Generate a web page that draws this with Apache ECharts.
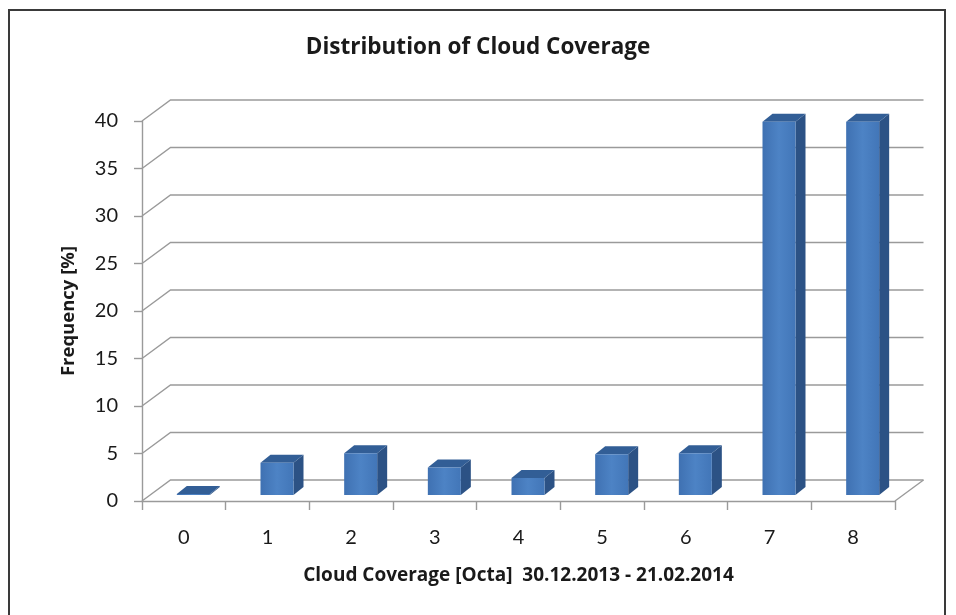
<!DOCTYPE html>
<html>
<head>
<meta charset="utf-8">
<title>Distribution of Cloud Coverage</title>
<script src="https://cdn.jsdelivr.net/npm/echarts@6.0.0/dist/echarts.min.js"></script>
<style>
html,body{margin:0;padding:0;background:#fff;}
#chart{width:956px;height:615px;}
</style>
</head>
<body>
<div id="chart"></div>
<script>
'use strict';

// data
var categories=['0','1','2','3','4','5','6','7','8'];
var frequency=[0.1,3.4,4.4,2.9,1.8,4.3,4.4,39.3,39.3];
var yTicks=[0,5,10,15,20,25,30,35,40];

var FONT='Lato, "Open Sans", sans-serif';
var BOLD_FONT='"Open Sans", Lato, sans-serif';
var GRID_COLOR='#9a9a9a';

// fake 3d: back wall offset and bar plane offset
var WALL_DX=28.5, WALL_DY=-21;
var BAR_DX=9.5, BAR_DY=-6;
var BAR_W=33, SIDE_DX=10, SIDE_DY=-8;

/**
 * back wall gridlines + left wall diagonals + floor edge
 */
function renderWall(params,api){
    var cs=params.coordSys;
    var v=api.value(1);
    var y=api.coord([0,v])[1];
    var x0=cs.x, x1=cs.x+cs.width;
    var children=[{
        type:'polyline',
        shape:{points:[[x0,y],[x0+WALL_DX,y+WALL_DY],[x1+WALL_DX,y+WALL_DY]]},
        style:{stroke:GRID_COLOR,lineWidth:1.4,fill:null}
    }];
    if(v===0){
        children.push({
            type:'line',
            shape:{x1:x1,y1:y,x2:x1+WALL_DX,y2:y+WALL_DY},
            style:{stroke:GRID_COLOR,lineWidth:1.4}
        });
    }
    return {type:'group',children:children};
}

/**
 * 3d looking column: front face, side face, top face
 */
function renderBar(params,api){
    var i=api.value(0), v=api.value(1);
    var base=api.coord([i,0]);
    var top=api.coord([i,v]);
    var l=base[0]+BAR_DX-BAR_W/2, r=l+BAR_W;
    var b=base[1]+BAR_DY, t=top[1]+BAR_DY;
    return {type:'group',children:[
        {type:'polygon',shape:{points:[[r,b],[r+SIDE_DX,b+SIDE_DY],[r+SIDE_DX,t+SIDE_DY],[r,t]]},
            style:{fill:'#2c5285'}},
        {type:'polygon',shape:{points:[[l,t],[r,t],[r+SIDE_DX,t+SIDE_DY],[l+SIDE_DX,t+SIDE_DY]]},
            style:{fill:'#325e96'}},
        {type:'rect',shape:{x:l,y:t,width:BAR_W,height:Math.max(b-t,0)},
            style:{fill:new echarts.graphic.LinearGradient(0,0,1,0,[
                {offset:0,color:'#3f71b2'},
                {offset:0.5,color:'#4d83c5'},
                {offset:1,color:'#4276b8'}
            ])}}
    ]};
}

var chart=echarts.init(document.getElementById('chart'));
chart.setOption({
    animation:false,
    backgroundColor:'#fff',
    title:{
        text:'Distribution of Cloud Coverage',
        left:'center',
        top:31,
        textStyle:{fontFamily:BOLD_FONT,fontSize:22.5,fontWeight:'bold',color:'#1a1a1a'}
    },
    graphic:[{
        type:'rect',
        shape:{x:9,y:10,width:936,height:620},
        style:{fill:null,stroke:'#3a3a3a',lineWidth:2},
        silent:true
    }],
    grid:{left:142,right:61,top:121,bottom:114},
    xAxis:{
        type:'category',
        data:categories,
        boundaryGap:true,
        name:'Cloud Coverage [Octa]  30.12.2013 - 21.02.2014',
        nameLocation:'middle',
        nameGap:65,
        nameTextStyle:{fontFamily:BOLD_FONT,fontSize:19,fontWeight:'bold',color:'#1a1a1a'},
        axisLine:{lineStyle:{color:GRID_COLOR,width:1.4}},
        axisTick:{show:true,length:9,alignWithLabel:false,lineStyle:{color:GRID_COLOR,width:1.4}},
        axisLabel:{fontFamily:FONT,fontSize:20,color:'#1a1a1a',margin:27},
        splitLine:{show:false}
    },
    yAxis:{
        type:'value',
        min:0,
        max:40,
        interval:5,
        name:'Frequency [%]',
        nameLocation:'middle',
        nameGap:64,
        nameTextStyle:{fontFamily:BOLD_FONT,fontSize:18.5,fontWeight:'bold',color:'#1a1a1a'},
        axisLine:{show:true,lineStyle:{color:GRID_COLOR,width:1.4}},
        axisTick:{show:true,length:8,lineStyle:{color:GRID_COLOR,width:1.4}},
        axisLabel:{fontFamily:FONT,fontSize:20,color:'#1a1a1a',margin:24},
        splitLine:{show:false}
    },
    series:[{
        type:'custom',
        name:'walls',
        z:1,
        silent:true,
        renderItem:renderWall,
        data:yTicks.map(function(v){return [0,v];})
    },{
        type:'custom',
        name:'Frequency',
        z:3,
        renderItem:renderBar,
        data:frequency.map(function(v,i){return [i,v];})
    }]
});
</script>
</body>
</html>
